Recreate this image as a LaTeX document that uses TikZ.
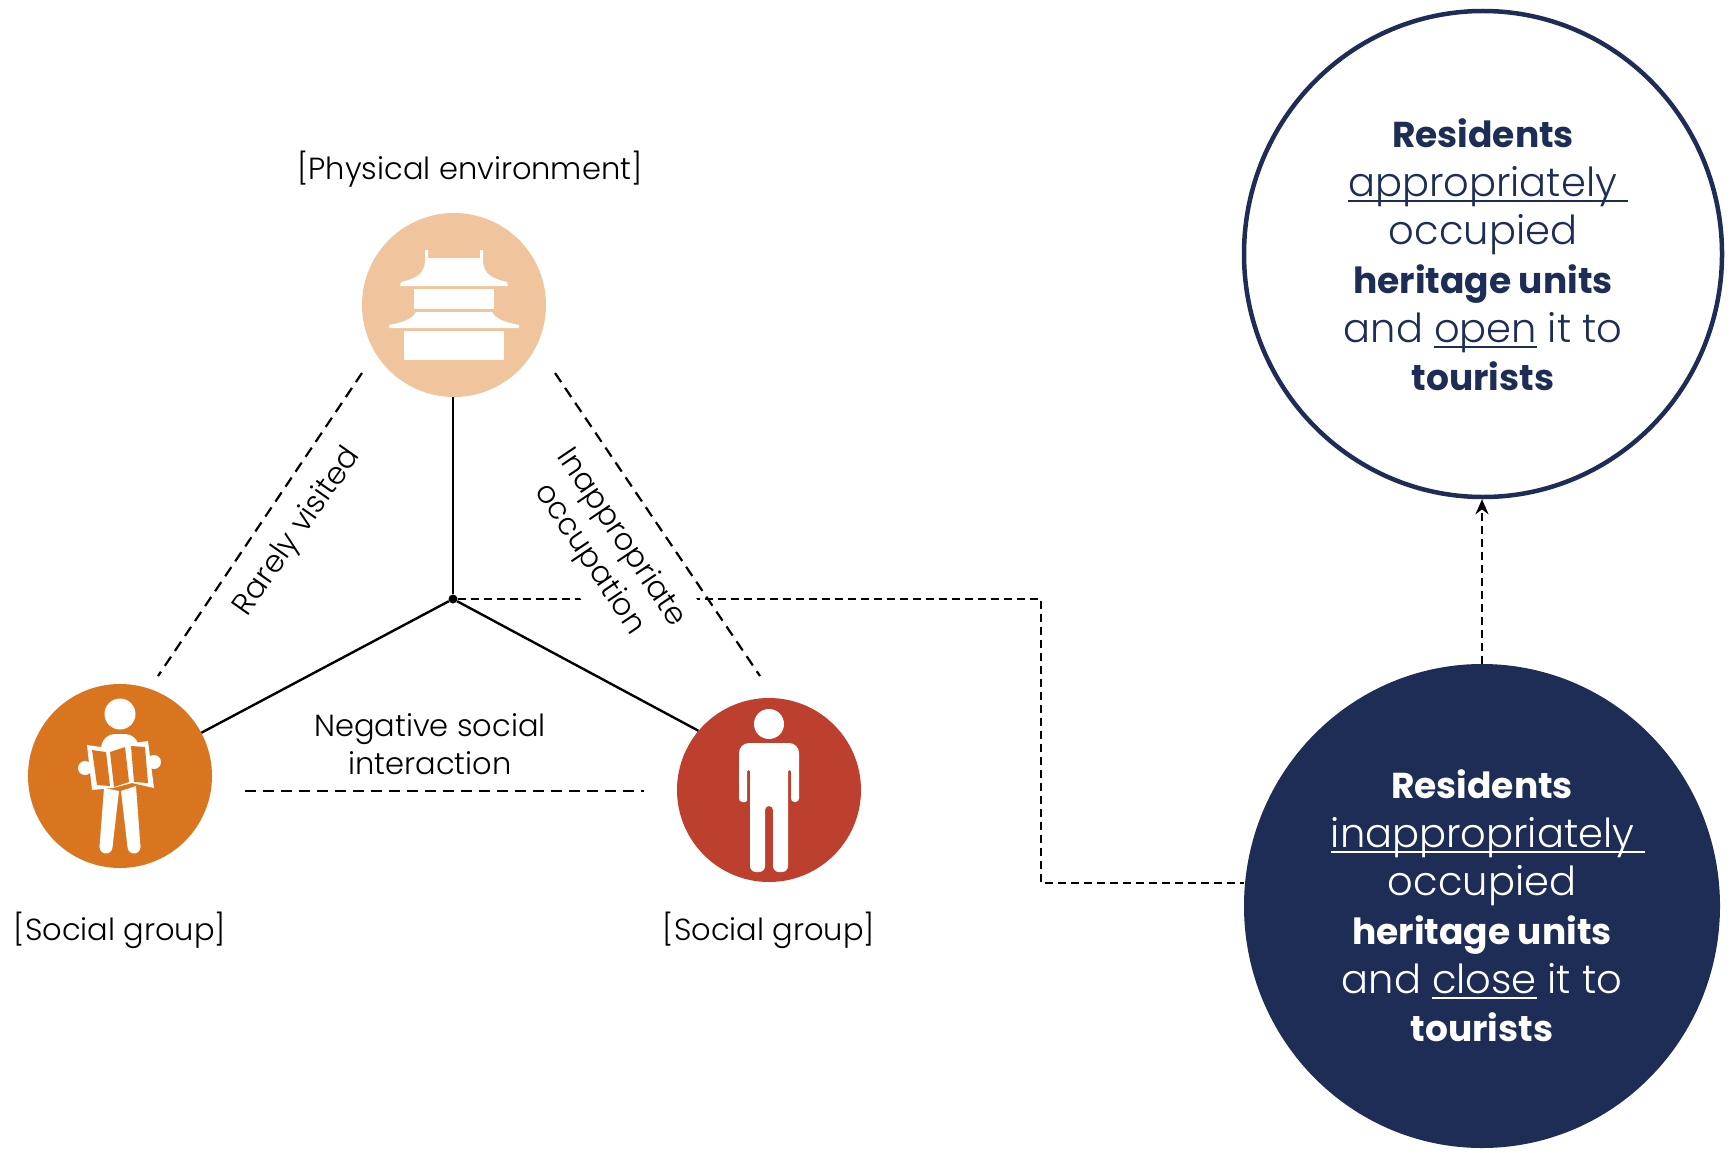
\documentclass[tikz,border=0pt]{standalone}
\usepackage{fontspec}
\setmainfont{Poppins}[UprightFont=* Light,BoldFont=* Bold]
\usetikzlibrary{arrows.meta,shapes.geometric}
\definecolor{navy}{HTML}{1D2D55}
\definecolor{peach}{HTML}{F0C49C}
\definecolor{amber}{HTML}{D9741F}
\definecolor{brick}{HTML}{BD3F2D}
\newcommand{\ulword}[1]{\setbox0\hbox{#1}\rlap{\rule[-6pt]{\wd0}{1.9pt}}\box0\relax}
\newcommand{\heavy}[1]{{\fontsize{36}{48.6}\selectfont\bfseries #1}}
\tikzset{
  iconcircle/.style={circle,minimum size=184pt,inner sep=0pt},
  resultcircle/.style={ellipse,inner sep=0pt},
  resulttext/.style={align=center,inner sep=0pt,font=\fontsize{40}{48.6}\selectfont},
  solidlink/.style={line width=2.4pt},
  dashlink/.style={line width=2.2pt,dash pattern=on 11pt off 7pt},
  shortdash/.style={line width=2.2pt,dash pattern=on 8pt off 5pt},
  caption/.style={font=\fontsize{30.5}{38}\selectfont,align=center,inner sep=2pt,black},
}
\begin{document}
\begin{tikzpicture}[x=1pt,y=-1pt]
\useasboundingbox (0,0) rectangle (1731,1153);
% circles
\node[iconcircle,fill=peach] (env) at (454,305) {};
\node[iconcircle,fill=amber] (tourist) at (120,776) {};
\node[iconcircle,fill=brick] (resident) at (769,790) {};
\node[resultcircle,draw=navy,line width=4.5pt,minimum width=478pt,minimum height=486pt] (good) at (1483,254) {};
\node[resultcircle,fill=navy,minimum width=476pt,minimum height=484pt] (bad) at (1482,906) {};
\node[circle,fill=black,inner sep=0pt,minimum size=9pt] (hub) at (453,599) {};
% free ends of the dashed lines
\coordinate (leftA) at (362,373);
\coordinate (leftB) at (158,676);
\coordinate (rightA) at (555,373);
\coordinate (rightB) at (760,676);
\coordinate (baseA) at (245,791);
\coordinate (baseB) at (644,791);
\coordinate (turnA) at (1041,599);
\coordinate (turnB) at (1041,883);
% connectors
\draw[solidlink] (env.south -| hub) -- (hub);
\draw[solidlink] (tourist) -- (hub);
\draw[solidlink] (resident.140) -- (hub);
\draw[dashlink] (leftA) -- (leftB);
\draw[dashlink] (rightA) -- (rightB);
\draw[dashlink] (baseA) -- (baseB);
\draw[shortdash] (hub) -- (turnA) -- (turnB) -- (turnB -| bad.west);
\draw[shortdash,-{Stealth[length=15pt,width=13pt]}] (bad.north) -- (bad.north |- good.south);
% labels
\node[caption] (envlabel) at (470,169) {[Physical environment]};
\node[caption] (touristlabel) at (120,930) {[Social group]};
\node[caption] (residentlabel) at (769,930) {[Social group]};
\node[caption] (basetext) at (430,744) {Negative social\\interaction};
\node[caption,rotate=55] (lefttext) at (298,532) {Rarely visited};
\node[caption,rotate=-56,fill=white,minimum height=96pt] (righttext) at (605,549) {Inappropriate\\occupation};
\node[resulttext,text=navy] (goodtext) at (1483,255)
  {\heavy{Residents}\\\hspace*{10pt}\ulword{appropriately\ }\\occupied\\\heavy{heritage units}\\and \ulword{open} it to\\\heavy{tourists}};
\node[resulttext,text=white] (badtext) at (1482,906)
  {\heavy{Residents}\\\hspace*{12pt}\ulword{inappropriately\ }\\occupied\\\heavy{heritage units}\\and \ulword{close} it to\\\heavy{tourists}};
% pagoda
\begin{scope}[shift={(env.center)},white]
\fill (-29,-55) -- (-26,-55) -- (-26,-47) -- (26,-47) -- (26,-55) -- (29,-55) -- (29,-43)
  .. controls (30,-30) and (40,-26) .. (53,-23) -- (54,-19) -- (-54,-19) -- (-53,-23)
  .. controls (-40,-26) and (-30,-30) .. (-29,-43) -- cycle;
\fill (-40,-16) rectangle (40,4);
\fill (-38,7) -- (38,7) .. controls (42,14) and (50,17) .. (65,20) -- (65,23) -- (-65,23)
  -- (-65,20) .. controls (-50,17) and (-42,14) .. (-38,7) -- cycle;
\fill (-50,26) rectangle (50,55);
\end{scope}
% reader with map
\begin{scope}[shift={(tourist.center)}]
\fill[white] (0,-62) circle (15.5);
\fill[white] (-19,-28) .. controls (-18,-37) and (-12,-42) .. (-5,-42) -- (5,-42)
  .. controls (12,-42) and (18,-37) .. (19,-28) -- cycle;
\fill[white] (-35,-8) circle (7);
\fill[white] (34,-14) circle (7);
\fill[white] (-33,-31) -- (-12,-28) -- (7,-32) -- (28,-35) -- (34,12) -- (12,7) -- (-7,12) -- (-28,14) -- cycle;
\fill[amber] (-28,-26) -- (-14,-24) -- (-10,10) -- (-23,9) -- cycle;
\fill[amber] (-10,-24) -- (5,-29) -- (9,6) -- (-6,11) -- cycle;
\fill[amber] (11,-30) -- (25,-29) -- (28,7) -- (14,6) -- cycle;
\fill[white] (-16,12) -- (-20.5,71) -- (-7.5,71) -- (-1,15) -- cycle;
\fill[white] (1,15) -- (7.5,71) -- (20.5,71) -- (16,10) -- cycle;
\fill[white] (-14,71) circle (6.5);
\fill[white] (14,71) circle (6.5);
\end{scope}
% standing figure
\begin{scope}[shift={(resident.center)}]
\fill[white] (0,-66) circle (15);
\fill[white,rounded corners=3.5pt] (-22,12) -- (-30,12) [rounded corners=10pt] -- (-30,-47) -- (30,-47)
  [rounded corners=3.5pt] -- (30,12) -- (22,12) [rounded corners=1.4pt] -- (22,-20) -- (19,-20)
  [rounded corners=6pt] -- (19,82) -- (4,82) [rounded corners=3.9pt] -- (4,16) -- (-4,16)
  [rounded corners=6pt] -- (-4,82) -- (-19,82) [rounded corners=1.4pt] -- (-19,-20) -- (-22,-20) -- cycle;
\end{scope}
\end{tikzpicture}
\end{document}
